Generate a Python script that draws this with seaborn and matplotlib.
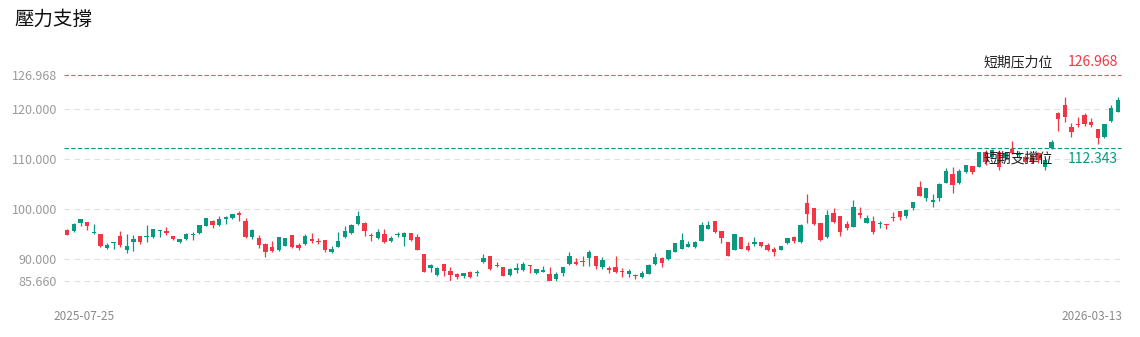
import matplotlib
matplotlib.use("Agg")
import matplotlib.pyplot as plt
import numpy as np
import pandas as pd
import seaborn as sns

# ---------------- data ----------------
opens = [95.86, 95.66, 97.19, 97.39, 95.19, 95.06, 92.19, 93.26, 94.66, 91.86,
         93.46, 94.66, 94.39, 94.39, 95.59, 95.59, 94.59, 93.46, 93.99, 94.86,
         95.19, 96.73, 97.66, 96.79, 97.99, 98.19, 99.33, 97.73, 94.53, 94.33,
         93.13, 92.39, 91.86, 92.73, 94.93, 92.79, 92.99, 94.06, 93.66, 93.79,
         91.39, 92.53, 94.46, 95.19, 96.99, 97.26, 94.93, 94.19, 94.99, 93.59,
         94.86, 94.39, 95.26, 94.39, 91.06, 88.33, 86.86, 89.06, 87.73, 87.13,
         86.66, 87.39, 87.33, 89.53, 90.66, 88.93, 88.39, 86.86, 87.93, 87.86,
         88.86, 87.33, 87.53, 87.13, 85.99, 87.33, 89.06, 89.39, 89.66, 90.19,
         90.66, 88.39, 88.19, 88.53, 87.59, 87.06, 86.86, 86.39, 87.06, 89.06,
         90.19, 89.99, 91.53, 92.13, 92.53, 92.53, 93.66, 96.06, 97.59, 95.59,
         93.46, 91.86, 94.39, 92.59, 93.06, 93.46, 92.86, 92.13, 91.86, 93.25,
         94.53, 93.53, 101.19, 100.19, 97.26, 94.39, 99.19, 98.66, 96.99, 96.53,
         99.19, 97.33, 97.66, 96.99, 97.06, 98.53, 99.66, 98.73, 100.26, 104.39,
         102.19, 101.39, 102.33, 105.33, 107.06, 105.19, 107.39, 108.66, 108.45, 111.53,
         110.53, 111.53, 110.19, 112.00, 110.90, 110.50, 110.86, 111.19, 108.50, 112.19,
         119.33, 120.86, 116.39, 117.13, 118.86, 117.53, 115.99, 114.53, 117.73, 119.53]
highs = [96.06, 97.19, 98.06, 97.40, 96.99, 95.10, 93.33, 93.40, 95.59, 94.99,
         94.93, 94.70, 96.79, 96.05, 95.80, 96.39, 94.60, 94.06, 95.19, 95.39,
         96.90, 98.20, 97.86, 98.66, 98.66, 99.10, 99.66, 98.19, 96.13, 94.86,
         93.33, 93.59, 94.40, 94.20, 94.95, 93.19, 95.06, 95.19, 94.33, 93.80,
         92.73, 95.53, 96.66, 97.06, 99.66, 97.39, 95.19, 95.99, 96.13, 94.66,
         95.46, 95.46, 95.30, 95.06, 91.10, 88.99, 88.39, 89.10, 88.39, 87.33,
         87.20, 87.73, 87.86, 91.06, 90.70, 89.46, 88.40, 88.33, 89.26, 89.53,
         88.90, 88.13, 88.73, 88.39, 87.39, 88.40, 91.39, 90.19, 90.66, 91.86,
         90.70, 90.39, 88.66, 90.66, 88.33, 88.13, 87.06, 87.66, 89.06, 91.19,
         90.53, 91.95, 93.33, 95.19, 93.73, 93.66, 97.39, 97.66, 97.60, 95.60,
         93.50, 95.10, 94.40, 93.46, 94.53, 93.50, 93.19, 92.53, 92.75, 94.33,
         94.66, 96.99, 103.06, 100.20, 97.30, 99.86, 100.19, 98.70, 97.73, 101.86,
         100.39, 98.86, 98.66, 97.73, 97.10, 99.39, 99.70, 99.95, 101.50, 105.73,
         104.30, 103.06, 105.19, 108.19, 108.53, 107.99, 108.86, 108.70, 111.45, 111.86,
         112.10, 111.86, 111.50, 113.73, 111.60, 110.90, 111.10, 111.53, 110.30, 113.86,
         119.40, 122.53, 117.33, 118.39, 119.19, 118.19, 116.00, 117.10, 120.86, 122.39]
lows = [94.79, 95.53, 96.73, 95.93, 95.15, 92.39, 92.15, 91.99, 92.53, 91.19,
        91.73, 92.99, 93.46, 94.35, 94.46, 94.79, 93.86, 93.19, 93.95, 93.86,
        95.15, 96.70, 96.33, 96.75, 97.06, 98.15, 97.73, 94.33, 94.06, 92.19,
        90.53, 91.53, 91.73, 92.70, 92.35, 91.86, 92.95, 93.19, 93.06, 91.39,
        91.19, 92.50, 94.19, 95.15, 96.86, 94.73, 93.59, 93.99, 93.19, 93.39,
        94.39, 92.66, 93.73, 91.80, 87.50, 87.53, 86.66, 86.66, 85.73, 86.06,
        86.33, 86.35, 86.66, 89.33, 87.95, 88.39, 86.70, 86.73, 87.33, 87.59,
        87.33, 87.06, 87.50, 85.66, 85.70, 86.66, 88.86, 88.86, 88.73, 88.66,
        88.13, 88.13, 87.19, 87.35, 86.53, 86.39, 85.99, 86.35, 87.00, 88.86,
        88.53, 89.95, 91.50, 92.10, 92.39, 92.19, 93.60, 95.99, 95.26, 93.26,
        90.70, 91.80, 92.10, 91.66, 92.73, 92.53, 91.66, 90.73, 91.80, 93.15,
        93.33, 93.19, 97.19, 96.86, 93.66, 94.35, 97.19, 94.73, 95.86, 96.50,
        98.19, 97.19, 94.99, 96.33, 95.99, 97.73, 97.86, 98.33, 99.86, 102.70,
        101.73, 100.53, 101.73, 105.30, 103.19, 105.15, 107.35, 107.06, 108.40, 108.86,
        110.30, 107.86, 109.90, 111.06, 110.30, 109.20, 109.30, 109.19, 107.90, 112.10,
        115.73, 117.39, 114.53, 116.39, 116.66, 116.39, 113.06, 114.19, 117.53, 119.50]
closes = [94.93, 97.06, 97.99, 96.59, 95.46, 92.73, 92.93, 93.39, 92.86, 92.66,
          93.99, 93.39, 94.73, 96.00, 95.79, 95.33, 93.99, 93.99, 95.06, 95.06,
          96.86, 98.19, 96.79, 97.99, 98.53, 99.06, 98.86, 94.53, 95.86, 92.93,
          91.39, 91.73, 94.39, 94.19, 92.39, 92.33, 94.66, 93.66, 93.39, 91.86,
          91.99, 93.59, 95.66, 96.93, 98.66, 95.73, 94.66, 95.53, 93.39, 94.26,
          95.13, 95.33, 93.86, 91.86, 87.53, 88.86, 88.26, 87.73, 86.86, 86.53,
          87.19, 86.39, 87.53, 90.19, 87.99, 88.59, 86.73, 88.13, 88.19, 88.99,
          88.59, 87.99, 87.79, 85.70, 86.99, 88.39, 90.73, 88.99, 89.39, 91.39,
          88.70, 89.86, 87.93, 87.39, 87.39, 87.73, 86.59, 87.19, 88.79, 90.39,
          89.33, 91.93, 93.19, 93.86, 92.99, 93.53, 96.86, 96.86, 95.39, 94.33,
          90.73, 95.06, 92.13, 91.86, 93.46, 92.66, 91.79, 91.53, 92.73, 94.19,
          93.59, 96.79, 99.06, 96.99, 93.86, 98.86, 97.39, 95.39, 96.33, 100.39,
          98.93, 98.19, 95.39, 97.33, 96.79, 98.19, 98.39, 99.93, 101.46, 102.73,
          104.26, 101.86, 105.06, 107.66, 104.86, 107.66, 108.79, 107.53, 111.40, 109.53,
          111.86, 108.53, 111.19, 111.33, 111.20, 109.50, 109.53, 109.86, 109.90, 113.53,
          118.06, 118.39, 115.53, 116.79, 116.99, 116.86, 114.19, 117.06, 120.33, 121.86]
date_labels = ["2025-07-25", "2026-03-13"]
ytick_values = [85.660, 90.0, 100.0, 110.0, 120.0, 126.968]
resistance = 126.968
support = 112.343
title = "壓力支撐"
resistance_label = "短期压力位"
support_label = "短期支撑位"

# ---------------- style ----------------
UP = "#089981"
DOWN = "#f23645"
sns.set_theme(style="white")
plt.rcParams["font.family"] = ["Noto Sans CJK SC", "DejaVu Sans"]

df = pd.DataFrame({"open": opens, "high": highs, "low": lows, "close": closes})
df["idx"] = np.arange(len(df))
df["up"] = df["close"] >= df["open"]
df["color"] = np.where(df["up"], UP, DOWN)
df["bottom"] = df[["open", "close"]].min(axis=1)
df["height"] = (df["close"] - df["open"]).abs().clip(lower=0.18)

W, H = 1140, 337
fig = plt.figure(figsize=(W / 100, H / 100), dpi=100)
ax = fig.add_axes([64 / W, 1 - 281 / H, (1121 - 64) / W, (281 - 74.5) / H])

# grid lines
for v in ytick_values[:-1]:
    ax.axhline(v, color="#e0e0e0", lw=0.8, ls=(0, (5, 4)), zorder=0, clip_on=False)
ax.axhline(resistance, color="#e25563", lw=0.8, ls=(0, (4, 2)), zorder=1, clip_on=False)
ax.axhline(support, color=UP, lw=0.8, ls=(0, (4, 2)), zorder=1, clip_on=False)

# candles
ax.vlines(df["idx"], df["low"], df["high"], colors=df["color"], lw=0.9, zorder=2)
ax.bar(df["idx"], df["height"], bottom=df["bottom"], width=0.66,
       color=df["color"], linewidth=0, zorder=3)

ax.set_xlim(-0.5, len(df) - 0.5)
ax.set_ylim(min(lows), resistance)
ax.set_xticks([])
ax.set_yticks(ytick_values)
ax.set_yticklabels([f"{v:.3f}" for v in ytick_values])
ax.tick_params(axis="y", length=0, pad=5, labelsize=9, labelcolor="#9a9a9a")
for s in ax.spines.values():
    s.set_visible(False)
ax.set_facecolor("white")

# texts
fig.text(14 / W, 1 - 19 / H, title, fontsize=14, color="#111111", weight="medium",
         ha="left", va="center", family=["Noto Sans CJK TC", "DejaVu Sans"])
fig.text(1053 / W, 1 - 62 / H, resistance_label, fontsize=10, color="#222222",
         ha="right", va="center", zorder=5)
fig.text(1118 / W, 1 - 62 / H, f"{resistance:.3f}", fontsize=10, color=DOWN,
         ha="right", va="center", zorder=5)
fig.text(1053 / W, 1 - 159 / H, support_label, fontsize=10, color="#222222",
         ha="right", va="center", zorder=5)
fig.text(1118 / W, 1 - 159 / H, f"{support:.3f}", fontsize=10, color=UP,
         ha="right", va="center", zorder=5)
fig.text(53 / W, 1 - 316 / H, date_labels[0], fontsize=8.5, color="#8a8a8a",
         ha="left", va="center")
fig.text(1122 / W, 1 - 316 / H, date_labels[1], fontsize=8.5, color="#8a8a8a",
         ha="right", va="center")

fig.savefig("out.png", dpi=100, facecolor="white")
